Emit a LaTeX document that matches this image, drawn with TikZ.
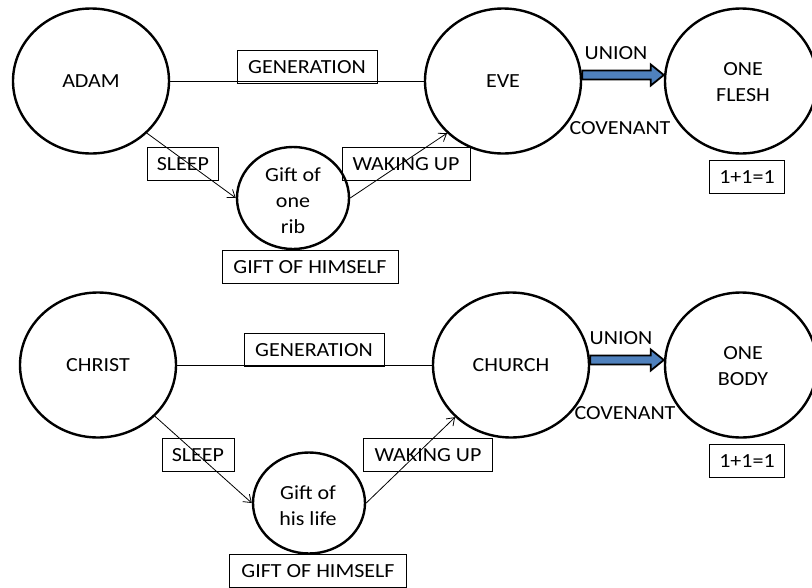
\documentclass[tikz,border=0pt]{standalone}
\usepackage{fontspec}
\setmainfont{Carlito}[FakeStretch=1.1]
\usetikzlibrary{calc,arrows.meta,shapes.geometric}
\definecolor{unionblue}{HTML}{4F81BD}
\begin{document}
\begin{tikzpicture}[x=1pt,y=-1pt,
  every node/.style={font=\fontsize{20}{26}\selectfont},
  person/.style={ellipse, draw, line width=2.4pt, inner sep=0pt},
  txt/.style={align=center, inner sep=0pt},
  tag/.style={draw, line width=0.8pt, minimum height=33pt, inner sep=0pt},
  link/.style={line width=0.8pt},
  flow/.style={line width=0.8pt, -{Straight Barb[length=7pt,width=10pt]}},
  unionarrow/.style={line width=1.8pt, fill=unionblue, draw=black, line join=miter}]
\useasboundingbox (0,0) rectangle (812,587);

% ---------- Adam and Eve ----------
\node[person, minimum width=156pt, minimum height=145pt] (adam) at (91,81) {ADAM};
\node[person, minimum width=156pt, minimum height=145pt] (eve) at (503,81) {EVE};
\node[person, minimum width=152pt, minimum height=145pt] (flesh) at (741,81) {};
\node[txt] (fleshtxt) at (743,82) {ONE\\FLESH};
\node[person, minimum width=112pt, minimum height=102pt] (gift1) at (293,198) {};
\node[txt] (gift1txt) at (293,201) {Gift of\\one\\rib};

\node[tag, minimum width=140pt] (gen1) at (307,67) {GENERATION};
\node[tag, minimum width=71pt] (sleep1) at (183,164) {SLEEP};
\node[tag, minimum width=128pt] (wake1) at (406,164) {WAKING UP};
\node[tag, minimum width=176pt] (himself1) at (310,267) {GIFT OF HIMSELF};
\node[tag, minimum width=75pt] (eq1) at (747,177) {1+1=1};
\node[txt] (union1) at (616,53) {UNION};
\node[txt] (cov1) at (620,128) {COVENANT};

\draw[link] (adam) -- (eve);
\draw[flow] (adam.-43) -- (gift1.west);
\draw[flow] (gift1.east) -- (eve.-137);

\coordinate (u1s) at ($(eve.east)+(0,-6)$);
\coordinate (u1e) at ($(flesh.west)+(0,-6)$);
\draw[unionarrow] ($(u1s)+(0,-4.5)$) -- ($(u1e)+(-13,-4.5)$) -- ($(u1e)+(-13,-10.5)$)
  -- (u1e) -- ($(u1e)+(-13,10.5)$) -- ($(u1e)+(-13,4.5)$) -- ($(u1s)+(0,4.5)$) -- cycle;

% ---------- Christ and the Church ----------
\node[person, minimum width=156pt, minimum height=145pt] (christ) at (98,365) {CHRIST};
\node[person, minimum width=156pt, minimum height=145pt] (church) at (511,365) {CHURCH};
\node[person, minimum width=152pt, minimum height=145pt] (body) at (741,365) {};
\node[txt] (bodytxt) at (743,366) {ONE\\BODY};
\node[person, minimum width=112pt, minimum height=101pt] (gift2) at (309,503) {};
\node[txt] (gift2txt) at (308,506) {Gift of\\his life};

\node[tag, minimum width=140pt] (gen2) at (314,350) {GENERATION};
\node[tag, minimum width=72pt] (sleep2) at (198,455) {SLEEP};
\node[tag, minimum width=129pt] (wake2) at (428,455) {WAKING UP};
\node[tag, minimum width=177pt] (himself2) at (318,571) {GIFT OF HIMSELF};
\node[tag, minimum width=75pt] (eq2) at (747,461) {1+1=1};
\node[txt] (union2) at (621,338) {UNION};
\node[txt] (cov2) at (625,413) {COVENANT};

\draw[link] (christ) -- (church);
\draw[flow] (christ.-42) -- (gift2.west);
\draw[flow] (gift2.east) -- (church.-137);

\coordinate (u2s) at ($(church.east)+(0,-5)$);
\coordinate (u2e) at ($(body.west)+(0,-5)$);
\draw[unionarrow] ($(u2s)+(0,-4.5)$) -- ($(u2e)+(-13,-4.5)$) -- ($(u2e)+(-13,-10.5)$)
  -- (u2e) -- ($(u2e)+(-13,10.5)$) -- ($(u2e)+(-13,4.5)$) -- ($(u2s)+(0,4.5)$) -- cycle;
\end{tikzpicture}
\end{document}
